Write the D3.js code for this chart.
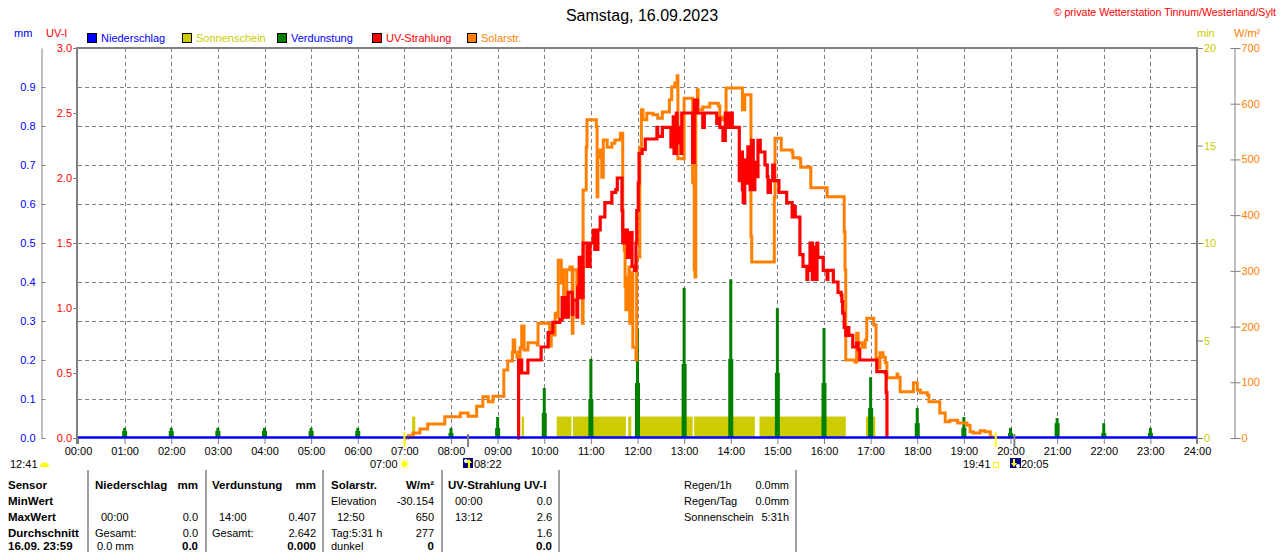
<!DOCTYPE html>
<html><head><meta charset="utf-8">
<script src="https://cdn.jsdelivr.net/npm/d3@7"></script>
<style>
html,body{margin:0;padding:0;background:#fff;}
svg{display:block;font-family:"Liberation Sans",Arial,sans-serif;}
</style></head><body>
<svg id="c" width="1280" height="552"></svg>
<script>
// ---------- data ----------
const hourLabels = ["00:00","01:00","02:00","03:00","04:00","05:00","06:00","07:00","08:00","09:00","10:00","11:00","12:00","13:00","14:00","15:00","16:00","17:00","18:00","19:00","20:00","21:00","22:00","23:00","24:00"];
const mmTicks = [0,0.1,0.2,0.3,0.4,0.5,0.6,0.7,0.8,0.9];
const uvTicks = [0,0.5,1.0,1.5,2.0,2.5,3.0];
const minTicks = [0,5,10,15,20];
const wTicks = [0,100,200,300,400,500,600,700];

// Solarstrahlung (minutes of day, W/m²)
const solarMin = [422,425,431,440,450,466,472,488,492,502,513,521,528,534,547,548,553,559,560,562,565,569,571,574,579,591,592,605,607,609,614,616,618,622,624,625,629,633,636,637,642,646,649,650,654,655,665,667,668,669,672,674,676,681,687,691,698,700,701,703,704,705,707,709,710,713,714,717,718,719,723,725,727,732,740,746,752,758,761,764,768,771,772,779,780,790,791,793,794,795,797,798,804,813,824,826,830,834,852,855,858,865,866,867,894,896,897,902,905,919,920,928,930,942,943,961,964,983,986,987,988,1000,1002,1004,1009,1013,1015,1023,1024,1027,1028,1032,1036,1039,1041,1048,1054,1055,1058,1068,1075,1080,1084,1093,1095,1107,1109,1116,1122,1131,1132,1144,1148,1152,1161,1167,1174,1178];
const solarW = [0,4,9,16,25,25,38,38,45,39,57,74,65,75,75,122,138,154,176,154,145,162,201,158,171,167,206,205,165,185,224,217,319,278,302,242,302,307,188,302,253,278,206,445,522,571,571,558,433,504,517,468,535,522,529,535,547,547,373,337,271,230,289,307,206,296,163,163,140,325,522,589,571,583,580,574,585,585,607,630,637,650,501,501,610,610,458,302,289,583,625,589,594,601,596,571,576,628,628,589,616,616,361,316,316,431,538,538,517,513,503,501,486,486,449,449,433,433,370,302,140,136,188,171,163,176,215,215,203,144,126,153,145,135,108,108,115,109,83,83,99,86,81,77,65,65,45,29,32,32,27,23,11,9,13,11,2,0];

// UV-Strahlung (minutes of day, UV-I)
const uvMin = [565,567,571,578,579,595,596,604,605,610,611,620,623,627,631,636,637,642,643,645,647,650,655,659,663,665,669,672,677,678,685,687,692,694,698,700,701,704,707,710,713,716,718,719,721,722,726,730,743,745,746,752,762,763,766,767,770,771,773,776,777,790,791,793,797,803,804,806,820,822,824,826,830,833,836,839,842,849,851,852,855,856,858,861,862,865,867,869,871,874,875,878,882,884,887,888,891,894,896,901,902,911,912,918,919,920,923,928,929,933,938,939,942,945,946,948,951,952,957,959,964,965,970,972,977,978,982,983,984,986,988,990,992,996,997,1002,1004,1006,1026,1028,1039,1040,1041];
const uvVal = [0,0.60,0.50,0.50,0.60,0.60,0.70,0.70,0.81,0.81,0.89,0.91,1.08,0.93,1.12,0.95,1.06,0.93,1.16,1.39,1.08,1.50,1.32,1.50,1.60,1.45,1.60,1.70,1.70,1.81,1.81,1.89,1.91,2.00,2.00,1.75,1.50,1.60,1.39,1.58,1.32,1.29,1.50,1.75,1.96,2.19,2.22,2.30,2.30,2.39,2.32,2.39,2.39,2.24,2.47,2.19,2.50,2.27,2.39,2.19,2.50,2.50,2.12,2.60,2.50,2.50,2.39,2.50,2.50,2.42,2.46,2.39,2.29,2.50,2.39,2.50,2.39,2.39,1.98,2.20,1.91,1.81,2.14,1.96,2.24,1.91,2.29,1.91,2.12,2.01,2.29,2.20,2.20,2.10,2.01,1.89,1.98,2.10,1.98,1.98,1.89,1.89,1.81,1.81,1.70,1.78,1.70,1.70,1.41,1.32,1.22,1.29,1.50,1.22,1.47,1.22,1.50,1.39,1.39,1.29,1.22,1.29,1.29,1.20,1.20,1.12,1.10,1.05,0.96,0.85,0.79,0.85,0.79,0.79,0.70,0.73,0.68,0.60,0.60,0.51,0.50,0.35,0];

// Verdunstung (hour, mm) - peak and shoulder values
const evapHour = [1,2,3,4,5,6,8,9,10,11,12,13,14,15,16,17,18,19,20,21,22,23];
const evapHigh = [0.026,0.026,0.026,0.026,0.026,0.026,0.026,0.054,0.128,0.203,0.280,0.385,0.407,0.333,0.282,0.156,0.077,0.054,0.026,0.051,0.038,0.026];
const evapLow  = [0.018,0.018,0.018,0.018,0.018,0.018,0.013,0.026,0.064,0.100,0.141,0.190,0.203,0.167,0.141,0.077,0.038,0.026,0.013,0.038,0.013,0.013];

// Sonnenschein intervals (minutes of day) and bar value (min)
const sunStart = [430,571,616,637,708,717,793,877,1014];
const sunEnd   = [434,574,635,705,712,791,871,988,1026];
const sunValue = 1.1;

// Niederschlag (minutes, mm)
const rainMin = [0,1440];
const rainMM = [0,0];

// sunrise/sunset/moon markers (minutes)
const sunriseMin = 420, sunsetMin = 1181, moonA = 502, moonB = 1205;

// ---------- layout ----------
const svg = d3.select("#c");
const L=78, R=1197, T=48, B=438;
const GRAY="#808080", BLUE="#0000ff", YEL="#cccc00", GREEN="#008000", RED="#ff0000", ORANGE="#ff8000";
const x = d3.scaleLinear().domain([0,1440]).range([L,R]);
const yMM = d3.scaleLinear().domain([0,1]).range([B,T]);
const yUV = d3.scaleLinear().domain([0,3]).range([B,T]);
const yMin = d3.scaleLinear().domain([0,20]).range([B,T]);
const yW = d3.scaleLinear().domain([0,700]).range([B,T]);
const hourMinutes = hourLabels.map((d,i)=>i*60);

function txt(g,xx,yy,s,o={}){
  return g.append("text").attr("x",xx).attr("y",yy).text(s)
   .attr("font-size",o.size||11).attr("fill",o.fill||"#000")
   .attr("font-weight",o.bold?"bold":"normal")
   .attr("text-anchor",o.anchor||"start");
}

// title
txt(svg,642,21,"Samstag, 16.09.2023",{size:16,anchor:"middle"});
txt(svg,1276,16,"© private Wetterstation Tinnum/Westerland/Sylt",{size:10.6,anchor:"end",fill:RED});

// unit labels
txt(svg,14,37,"mm",{fill:BLUE});
txt(svg,46,37,"UV-I",{fill:RED});
txt(svg,1197,37,"min",{fill:YEL});
txt(svg,1234,37,"W/m²",{fill:ORANGE});

// legend
const legend = [
  {n:"Niederschlag",c:BLUE,t:BLUE,x:87},
  {n:"Sonnenschein",c:YEL,t:YEL,x:182},
  {n:"Verdunstung",c:GREEN,t:BLUE,x:277},
  {n:"UV-Strahlung",c:RED,t:RED,x:372},
  {n:"Solarstr.",c:ORANGE,t:ORANGE,x:467}];
const lg = svg.append("g");
legend.forEach(d=>{
  lg.append("rect").attr("x",d.x+0.5).attr("y",33.5).attr("width",9).attr("height",9).attr("fill",d.c).attr("stroke","#000");
  txt(lg,d.x+14,42,d.n,{fill:d.t});
});

// grid
const grid = svg.append("g").attr("stroke",GRAY).attr("stroke-dasharray","4,3").attr("stroke-width",1);
grid.selectAll("line.v").data(hourMinutes.slice(1,24)).join("line")
  .attr("x1",d=>Math.round(x(d))+0.5).attr("x2",d=>Math.round(x(d))+0.5).attr("y1",T).attr("y2",B);
grid.selectAll("line.h").data(mmTicks.slice(1)).join("line")
  .attr("x1",L).attr("x2",R).attr("y1",d=>Math.round(yMM(d))+0.5).attr("y2",d=>Math.round(yMM(d))+0.5);

// sunshine bars
svg.append("g").selectAll("rect").data(sunStart).join("rect")
  .attr("x",(d)=>x(d)).attr("width",(d,i)=>x(sunEnd[i])-x(d))
  .attr("y",yMin(sunValue)).attr("height",B-yMin(sunValue)).attr("fill",YEL);

// evaporation bars
const ev = svg.append("g").attr("fill",GREEN);
ev.selectAll("rect.lo").data(evapHour).join("rect")
  .attr("x",d=>x(d*60)-2.5).attr("width",5)
  .attr("y",(d,i)=>yMM(evapLow[i])).attr("height",(d,i)=>B-yMM(evapLow[i]));
ev.selectAll("rect.hi").data(evapHour).join("rect")
  .attr("x",d=>x(d*60)-1.5).attr("width",3)
  .attr("y",(d,i)=>yMM(evapHigh[i])).attr("height",(d,i)=>B-yMM(evapHigh[i]));

// rain line
svg.append("path").datum(rainMin.map((m,i)=>[m,rainMM[i]]))
  .attr("d",d3.line().x(d=>x(d[0])).y(d=>yMM(d[1])-0.5))
  .attr("fill","none").attr("stroke",BLUE).attr("stroke-width",2);

// solar line
svg.append("path").datum(solarMin.map((m,i)=>[m,solarW[i]]))
  .attr("d",d3.line().curve(d3.curveStepAfter).x(d=>x(d[0])).y(d=>yW(d[1])))
  .attr("fill","none").attr("stroke",ORANGE).attr("stroke-width",3).attr("stroke-linejoin","miter");

// UV line
svg.append("path").datum(uvMin.map((m,i)=>[m,uvVal[i]]))
  .attr("d",d3.line().curve(d3.curveStepAfter).x(d=>x(d[0])).y(d=>yUV(d[1])))
  .attr("fill","none").attr("stroke",RED).attr("stroke-width",3.2).attr("stroke-linejoin","miter");

// axes
function style(g,color){
  g.attr("font-family",null).attr("font-size",11);
  g.selectAll("line").attr("stroke",GRAY);
  g.selectAll("path.domain").attr("stroke",GRAY);
  g.selectAll("text").attr("fill",color);
}
const gMM = svg.append("g").attr("transform","translate(41.5,0)")
  .call(d3.axisLeft(yMM).tickValues(mmTicks).tickFormat(d3.format(".1f")).tickSizeInner(-4).tickSizeOuter(0).tickPadding(6));
style(gMM,BLUE);

const gUV = svg.append("g").attr("transform","translate(77,0)")
  .call(d3.axisLeft(yUV).tickValues(uvTicks).tickFormat(d3.format(".1f")).tickSize(4).tickPadding(1));
gUV.select(".domain").remove(); style(gUV,RED);

const gIn = svg.append("g").attr("transform","translate(1196,0)")
  .call(d3.axisLeft(yMM).tickValues(mmTicks.slice(1)).tickFormat("").tickSize(4));
gIn.select(".domain").remove(); style(gIn,"#000");

const gMin = svg.append("g").attr("transform","translate(1198,0)")
  .call(d3.axisRight(yMin).tickValues(minTicks).tickSize(5).tickPadding(1));
gMin.select(".domain").remove(); style(gMin,YEL);

const gW = svg.append("g").attr("transform","translate(1234.5,0)")
  .call(d3.axisRight(yW).tickValues(wTicks).tickSizeInner(6).tickSizeOuter(0).tickPadding(1));
style(gW,ORANGE);
const gW2 = svg.append("g").attr("transform","translate(1234.5,0)")
  .call(d3.axisLeft(yW).tickValues(wTicks).tickFormat("").tickSize(4));
gW2.select(".domain").remove(); style(gW2,ORANGE);

const gX = svg.append("g").attr("transform",`translate(0,${B+1})`)
  .call(d3.axisBottom(x).tickValues(hourMinutes).tickFormat((d,i)=>hourLabels[i]).tickSize(5).tickPadding(3));
gX.select(".domain").remove(); style(gX,"#000");

// frame
const fr = svg.append("g").attr("stroke",GRAY).attr("stroke-width",2).attr("fill","none");
fr.append("line").attr("x1",76).attr("x2",1198).attr("y1",T).attr("y2",T);
fr.append("line").attr("x1",77).attr("x2",77).attr("y1",T).attr("y2",B+6);
fr.append("line").attr("x1",1197).attr("x2",1197).attr("y1",T).attr("y2",B+6);
// rain zero line on top of frame bottom
svg.append("line").attr("x1",x(0)).attr("x2",x(1440)).attr("y1",B-0.5).attr("y2",B-0.5).attr("stroke",BLUE).attr("stroke-width",2);

// markers on axis
const mk = svg.append("g");
[sunriseMin,sunsetMin].forEach(m=>mk.append("line").attr("x1",x(m)).attr("x2",x(m)).attr("y1",432).attr("y2",447).attr("stroke","#ffff00").attr("stroke-width",2));
[moonA,moonB].forEach(m=>mk.append("line").attr("x1",x(m)).attr("x2",x(m)).attr("y1",434).attr("y2",447).attr("stroke",GRAY).attr("stroke-width",2));

// marker row
txt(mk,10,468,"12:41");
mk.append("path").attr("d","M40,467 A4.5,4.5 0 0 1 49,467 Z").attr("fill","#ffff00");
txt(mk,370,468,"07:00");
const sx=x(sunriseMin)+0, sy=464;
mk.append("circle").attr("cx",sx).attr("cy",sy).attr("r",3).attr("fill","#ffff00");
d3.range(8).forEach(k=>{const a=k*Math.PI/4; mk.append("line").attr("x1",sx+Math.cos(a)*3.5).attr("y1",sy+Math.sin(a)*3.5).attr("x2",sx+Math.cos(a)*5.5).attr("y2",sy+Math.sin(a)*5.5).attr("stroke","#ffff66").attr("stroke-width",1);});
// moon icon 1
mk.append("rect").attr("x",463).attr("y",458).attr("width",10).attr("height",10).attr("fill","#000080");
mk.append("circle").attr("cx",466).attr("cy",461).attr("r",2).attr("fill","#fff");
mk.append("path").attr("d","M469,459 L472,463 L470,463 L470,468 L468,468 L468,463 L466,463 Z").attr("fill","#ffff00");
txt(mk,474,468,"08:22");
txt(mk,963,468,"19:41");
mk.append("rect").attr("x",993.5).attr("y",462.5).attr("width",5).attr("height",5).attr("fill","none").attr("stroke","#ffff00");
// moon icon 2
mk.append("rect").attr("x",1010).attr("y",458).attr("width",11).attr("height",10).attr("fill","#000080");
mk.append("circle").attr("cx",1018).attr("cy",466).attr("r",2).attr("fill","#fff");
mk.append("path").attr("d","M1013,459 L1015,459 L1015,463 L1017,463 L1014,467 L1011,463 L1013,463 Z").attr("fill","#ffff00");
txt(mk,1021,468,"20:05");

// ---------- table ----------
const tb = svg.append("g");
[88,206,323,442,559,796].forEach(v=>tb.append("line").attr("x1",v).attr("x2",v).attr("y1",470).attr("y2",552).attr("stroke","#a0a0a0").attr("stroke-width",2));
const rows=[489,505,521,537,550];
const BS=11.5;
["Sensor","MinWert","MaxWert","Durchschnitt","16.09. 23:59"].forEach((s,i)=>txt(tb,8,rows[i],s,{bold:true,size:BS}));
txt(tb,95,rows[0],"Niederschlag",{bold:true,size:BS});
txt(tb,198,rows[0],"mm",{bold:true,size:BS,anchor:"end"});
txt(tb,101,rows[2],"00:00"); txt(tb,198,rows[2],"0.0",{anchor:"end"});
txt(tb,95,rows[3],"Gesamt:"); txt(tb,198,rows[3],"0.0",{anchor:"end"});
txt(tb,97,rows[4],"0.0 mm"); txt(tb,198,rows[4],"0.0",{anchor:"end",bold:true,size:BS});

txt(tb,212,rows[0],"Verdunstung",{bold:true,size:BS});
txt(tb,316,rows[0],"mm",{bold:true,size:BS,anchor:"end"});
txt(tb,219,rows[2],"14:00"); txt(tb,316,rows[2],"0.407",{anchor:"end"});
txt(tb,212,rows[3],"Gesamt:"); txt(tb,316,rows[3],"2.642",{anchor:"end"});
txt(tb,316,rows[4],"0.000",{anchor:"end",bold:true,size:BS});

txt(tb,331,rows[0],"Solarstr.",{bold:true,size:BS});
txt(tb,434,rows[0],"W/m²",{bold:true,size:BS,anchor:"end"});
txt(tb,331,rows[1],"Elevation"); txt(tb,434,rows[1],"-30.154",{anchor:"end"});
txt(tb,337,rows[2],"12:50"); txt(tb,434,rows[2],"650",{anchor:"end"});
txt(tb,331,rows[3],"Tag:5:31 h"); txt(tb,434,rows[3],"277",{anchor:"end"});
txt(tb,331,rows[4],"dunkel"); txt(tb,434,rows[4],"0",{anchor:"end",bold:true,size:BS});

txt(tb,448,rows[0],"UV-Strahlung UV-I",{bold:true,size:BS});
txt(tb,455,rows[1],"00:00"); txt(tb,552,rows[1],"0.0",{anchor:"end"});
txt(tb,455,rows[2],"13:12"); txt(tb,552,rows[2],"2.6",{anchor:"end"});
txt(tb,552,rows[3],"1.6",{anchor:"end"});
txt(tb,552,rows[4],"0.0",{anchor:"end",bold:true,size:BS});

[["Regen/1h","0.0mm"],["Regen/Tag","0.0mm"],["Sonnenschein","5:31h"]].forEach((r,i)=>{
  txt(tb,684,rows[i],r[0]); txt(tb,789,rows[i],r[1],{anchor:"end"});
});
</script>
</body></html>
